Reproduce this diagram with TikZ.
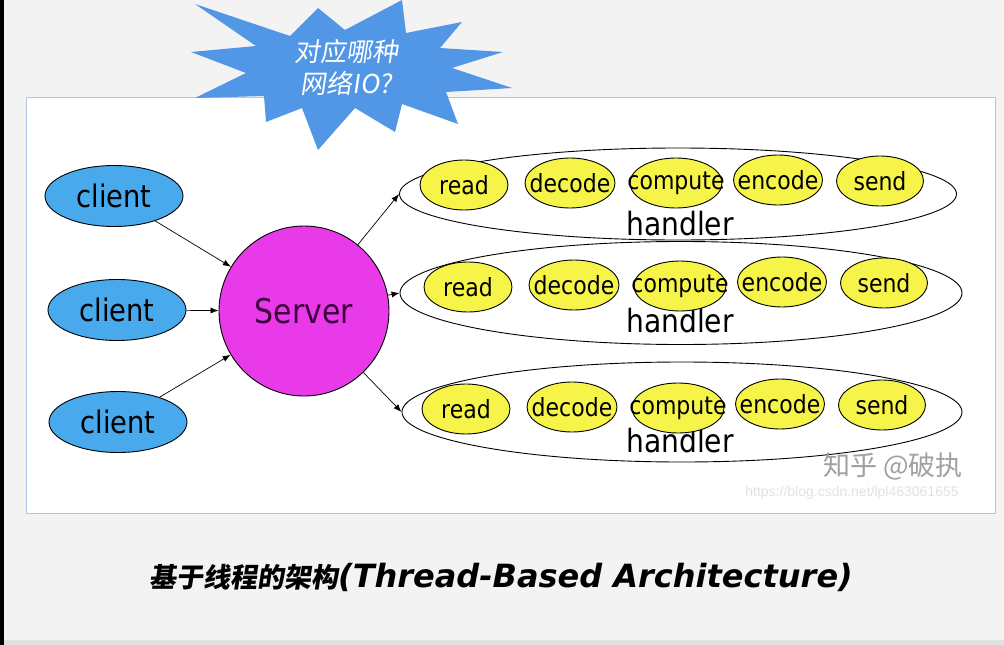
\documentclass[tikz,border=0pt]{standalone}
\usepackage{fontspec}
\setmainfont{DejaVu Sans}[FakeStretch=0.88]
\newfontfamily\cjkfont{Noto Sans CJK SC}
\newfontfamily\cjkslant{Noto Sans CJK SC}[FakeSlant=0.15]
\newfontfamily\capfont{DejaVu Sans}
\newfontfamily\urlfont{Liberation Sans}
\usetikzlibrary{shapes.geometric,arrows.meta}
\definecolor{pagegray}{RGB}{243,243,243}
\definecolor{panelline}{RGB}{178,198,226}
\definecolor{burstblue}{RGB}{82,150,230}
\definecolor{clientblue}{RGB}{72,170,236}
\definecolor{servermagenta}{RGB}{232,58,232}
\definecolor{servertext}{RGB}{60,0,60}
\definecolor{stageyellow}{RGB}{246,244,72}
\definecolor{wmgray}{RGB}{160,160,160}
\definecolor{urlgray}{RGB}{226,226,226}
\newcommand{\nowidth}[1]{\makebox[0pt]{#1}}
\tikzset{
  client/.style={ellipse, draw, line width=0.9pt, fill=clientblue, minimum width=138pt,
    minimum height=61pt, inner sep=0pt, font=\fontsize{31}{31}\selectfont},
  stage/.style={ellipse, draw, line width=0.9pt, fill=stageyellow, minimum height=50pt,
    inner sep=0pt, font=\fontsize{25}{25}\selectfont},
  handler/.style={ellipse, draw, line width=0.9pt, inner sep=0pt},
  hlabel/.style={font=\fontsize{32}{32}\selectfont, inner sep=0pt},
  link/.style={line width=0.7pt, -{Latex[length=8pt,width=6pt]}},
}
\begin{document}
\begin{tikzpicture}[x=1pt,y=-1pt]
\useasboundingbox (0,0) rectangle (1004,645);
% page and panel
\fill[pagegray] (0,0) rectangle (1004,645);
\fill[black] (0,0) rectangle (4,645);
\fill[black!12] (4,640) rectangle (1004,645);
\draw[panelline, fill=white] (26,97) rectangle (995,513);
% burst with the question
\fill[burstblue] (195,4) -- (290,36) -- (318,8) -- (345,30) -- (402,0) -- (406,33)
  -- (462,22) -- (440,48) -- (503,52) -- (452,68) -- (512,88) -- (446,92)
  -- (458,124) -- (402,104) -- (395,132) -- (355,108) -- (318,150) -- (302,108)
  -- (266,122) -- (264,96) -- (195,98) -- (246,73) -- (191,52) -- (256,46) -- cycle;
\node[text=white, align=center, font=\cjkslant\fontsize{26}{32}\selectfont] (question)
  at (346,67) {对应哪种\\网络IO?};
% clients and server
\node[client] (c1) at (114,196) {client};
\node[client] (c2) at (117,310) {client};
\node[client] (c3) at (118,422) {client};
\node[circle, draw, line width=0.9pt, fill=servermagenta, minimum size=170pt, inner sep=0pt,
  text=servertext, font=\fontsize{34}{34}\selectfont] (server) at (304,311) {Server};
\draw[link] (c1) -- (server);
\draw[link] (c2) -- (server);
\draw[link] (c3) -- (server);
% handlers
\node[handler, minimum width=557pt, minimum height=92pt] (h1) at (678,194) {};
\node[handler, minimum width=562pt, minimum height=103pt] (h2) at (681,293) {};
\node[handler, minimum width=560pt, minimum height=100pt] (h3) at (682,412) {};
\node[hlabel] (hl1) at (680,224) {handler};
\node[hlabel] (hl2) at (680,321) {handler};
\node[hlabel] (hl3) at (680,441) {handler};
\draw[link] (server) -- (h1.west);
\draw[link] (server) -- (h2.west);
\draw[link] (server) -- (h3.west);
% first handler
\node[stage, minimum width=88pt] (r1) at (464,185) {\nowidth{read}};
\node[stage, minimum width=90pt] (d1) at (570,183) {\nowidth{decode}};
\node[stage, minimum width=92pt] (p1) at (676,183) {\nowidth{compute}};
\node[stage, minimum width=89pt] (e1) at (778,180) {\nowidth{encode}};
\node[stage, minimum width=87pt] (s1) at (880,181) {\nowidth{send}};
% second handler
\node[stage, minimum width=88pt] (r2) at (468,287) {\nowidth{read}};
\node[stage, minimum width=90pt] (d2) at (574,285) {\nowidth{decode}};
\node[stage, minimum width=92pt] (p2) at (680,286) {\nowidth{compute}};
\node[stage, minimum width=89pt] (e2) at (782,282) {\nowidth{encode}};
\node[stage, minimum width=87pt] (s2) at (884,283) {\nowidth{send}};
% third handler
\node[stage, minimum width=88pt] (r3) at (466,409) {\nowidth{read}};
\node[stage, minimum width=90pt] (d3) at (572,407) {\nowidth{decode}};
\node[stage, minimum width=92pt] (p3) at (678,408) {\nowidth{compute}};
\node[stage, minimum width=89pt] (e3) at (780,404) {\nowidth{encode}};
\node[stage, minimum width=87pt] (s3) at (882,405) {\nowidth{send}};
% marks and caption
\node[text=wmgray, font=\cjkfont\fontsize{27}{27}\selectfont] (mark) at (893,466) {知乎 @破执};
\node[text=urlgray, font=\urlfont\fontsize{14}{14}\selectfont] (url) at (852,493)
  {https://blog.csdn.net/lpl463061655};
\node (caption) at (501,577) {{\cjkslant\bfseries\fontsize{27}{27}\selectfont 基于线程的架构}%
  {\capfont\bfseries\itshape\fontsize{32}{32}\selectfont(Thread-Based Architecture)}};
\end{tikzpicture}
\end{document}
